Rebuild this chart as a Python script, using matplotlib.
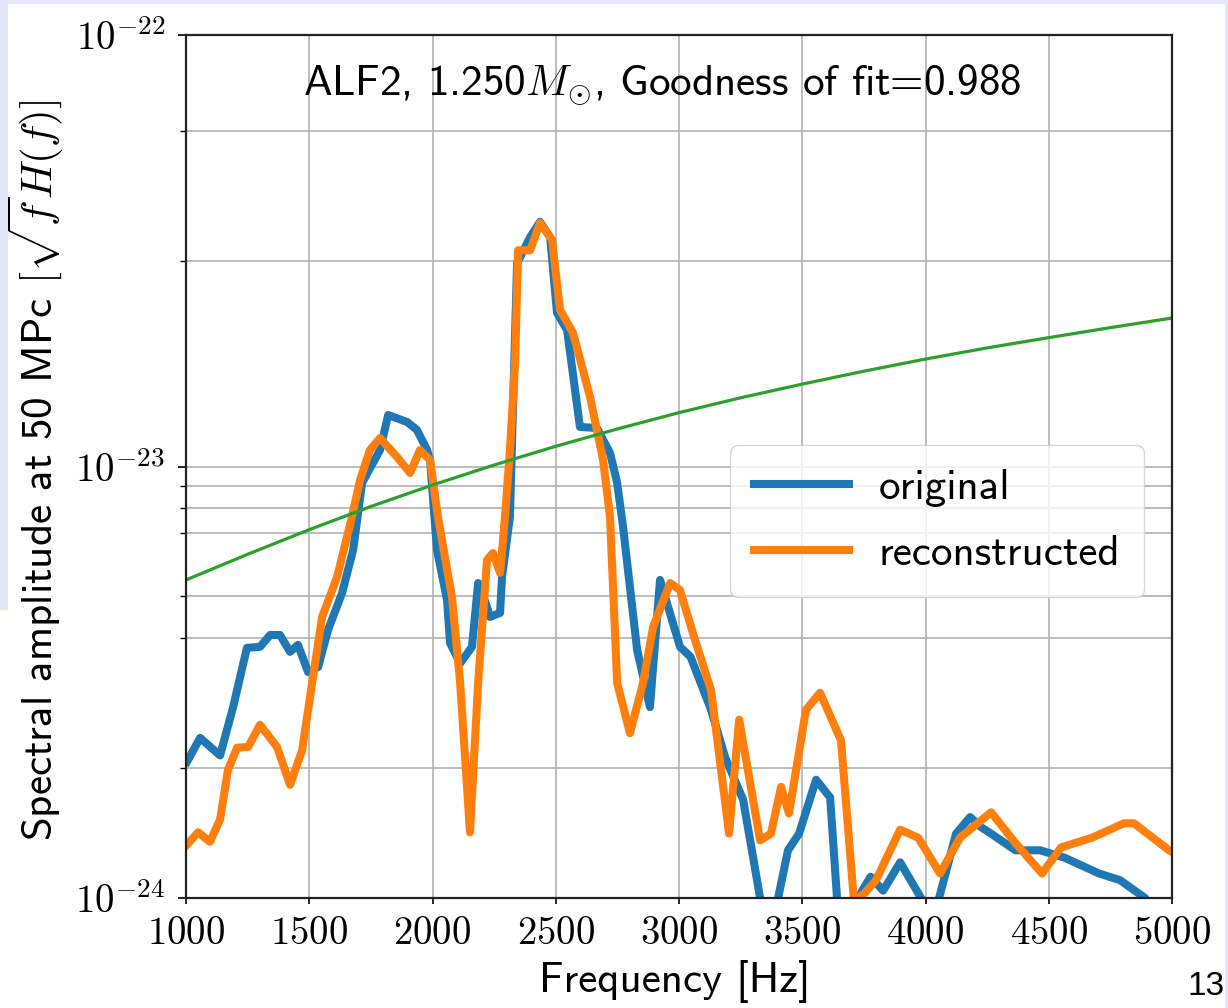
import matplotlib
matplotlib.use("Agg")
import matplotlib.pyplot as plt
from matplotlib.ticker import FixedLocator, FixedFormatter, NullFormatter
from matplotlib.patches import Rectangle

# amplitudes are given in units of 1e-24
unit = 1e-24

freq_orig = [1004, 1057, 1138, 1191, 1247, 1300, 1341, 1381, 1422, 1454, 1495, 1536,
             1576, 1633, 1678, 1714, 1787, 1820, 1897, 1937, 1978, 1990, 2018, 2059,
             2071, 2112, 2160, 2185, 2221, 2233, 2274, 2282, 2314, 2343, 2396, 2436,
             2477, 2505, 2546, 2598, 2667, 2720, 2749, 2773, 2830, 2882, 2923, 3004,
             3047, 3130, 3187, 3260, 3329, 3360, 3375, 3402, 3442, 3487, 3556, 3613,
             3641, 3670, 3710, 3730, 3743, 3777, 3828, 3897, 3982, 4005, 4030, 4055,
             4124, 4181, 4225, 4266, 4365, 4465, 4564, 4704, 4789, 4891, 5000]
amp_orig = [2.07, 2.35, 2.14, 2.77, 3.80, 3.82, 4.07, 4.07, 3.72, 3.86, 3.34, 3.43,
            4.18, 5.09, 6.41, 9.16, 10.92, 13.16, 12.68, 12.15, 10.92, 10.35, 6.41, 4.90,
            3.90, 3.50, 3.82, 5.37, 4.73, 4.48, 4.58, 5.55, 7.64, 29.6, 34.0, 36.9,
            34.0, 22.7, 20.7, 12.35, 12.28, 10.75, 9.16, 7.24, 3.76, 2.77, 5.46, 3.82,
            3.62, 2.73, 2.12, 1.69, 1.0, 0.6, 0.6, 1.0, 1.29, 1.41, 1.88, 1.71,
            1.0, 0.6, 0.6, 1.0, 1.04, 1.12, 1.04, 1.21, 1.0, 0.7, 0.7, 1.0,
            1.41, 1.54, 1.46, 1.41, 1.29, 1.29, 1.24, 1.14, 1.10, 1.0, 0.75]

freq_rec = [1004, 1049, 1097, 1138, 1170, 1207, 1252, 1300, 1369, 1422, 1471, 1515,
            1552, 1613, 1673, 1706, 1746, 1787, 1856, 1909, 1949, 1990, 2022, 2079,
            2112, 2152, 2185, 2221, 2245, 2274, 2294, 2314, 2335, 2347, 2396, 2436,
            2485, 2517, 2570, 2639, 2692, 2720, 2749, 2801, 2854, 2895, 2964, 3004,
            3061, 3130, 3203, 3244, 3329, 3373, 3414, 3446, 3515, 3572, 3657, 3710,
            3755, 3799, 3897, 3970, 4059, 4140, 4266, 4365, 4473, 4550, 4676, 4805,
            4846, 4988, 5000]
amp_rec = [1.33, 1.42, 1.35, 1.52, 1.98, 2.23, 2.24, 2.52, 2.24, 1.83, 2.20, 3.25,
           4.48, 5.55, 7.64, 9.31, 10.92, 11.64, 10.52, 9.66, 10.92, 10.35, 7.64, 4.98,
           3.15, 1.42, 3.15, 6.07, 6.30, 5.67, 7.64, 10.92, 17.4, 31.7, 31.7, 36.7,
           33.5, 23.1, 20.4, 14.5, 10.35, 7.64, 3.15, 2.41, 3.15, 4.25, 5.37, 5.17,
           4.03, 3.03, 1.41, 2.59, 1.36, 1.41, 1.81, 1.57, 2.73, 2.99, 2.32, 0.98,
           1.03, 1.10, 1.44, 1.38, 1.14, 1.38, 1.58, 1.34, 1.14, 1.31, 1.38, 1.49,
           1.49, 1.29, 1.28]

freq_noise = [1000, 1250, 1500, 1750, 2000, 2250, 2500, 2750, 3000, 3250, 3500,
              3750, 4000, 4250, 4500, 4750, 5000]
amp_noise = [5.46, 6.26, 7.14, 8.08, 9.06, 10.08, 11.14, 12.22, 13.33, 14.43, 15.52,
             16.63, 17.74, 18.83, 19.89, 20.98, 22.08]

xticks = [1000, 1500, 2000, 2500, 3000, 3500, 4000, 4500, 5000]
yticks = [1e-24, 1e-23, 1e-22]
ytick_labels = [r'$10^{-24}$', r'$10^{-23}$', r'$10^{-22}$']
yminor = [2e-24, 4e-24, 5e-24, 7e-24, 8e-24, 9e-24, 3e-23, 6e-23]

plt.rcParams['mathtext.fontset'] = 'cm'
plt.rcParams['axes.formatter.use_mathtext'] = True
sans = ['cmss10', 'DejaVu Sans']

fig = plt.figure(figsize=(12.28, 10.08), dpi=100)
ax = fig.add_axes([0.1515, 0.1091, 0.8029, 0.8562])

ax.plot(freq_orig, [a * unit for a in amp_orig], color='#1f77b4', lw=5.8, label='original')
ax.plot(freq_rec, [a * unit for a in amp_rec], color='#ff7f0e', lw=5.8, label='reconstructed')
ax.plot(freq_noise, [a * unit for a in amp_noise], color='#2ca02c', lw=2.3)

ax.set_yscale('log')
ax.set_xlim(1000, 5000)
ax.set_ylim(1e-24, 1e-22)

ax.yaxis.set_major_locator(FixedLocator(yticks))
ax.yaxis.set_major_formatter(FixedFormatter(ytick_labels))
ax.yaxis.set_minor_locator(FixedLocator(yminor))
ax.yaxis.set_minor_formatter(NullFormatter())
ax.set_xticks(xticks)
for lab in ax.get_xticklabels():
    lab.set_fontfamily('cmr10')

ax.tick_params(axis='x', which='major', labelsize=28, length=4, width=1.2, pad=9)
ax.tick_params(axis='y', which='major', labelsize=28, length=6, width=1.2, pad=9)
ax.tick_params(axis='y', which='minor', length=4, width=1.0)

ax.grid(True, which='both', color='#b8b8b8', lw=1.3)
ax.set_axisbelow(True)
for sp in ax.spines.values():
    sp.set_linewidth(1.6)
    sp.set_color('#222222')

ax.set_xlabel('Frequency [Hz]', family=sans, fontsize=31)
ax.set_ylabel(r'Spectral amplitude at 50 MPc $[\sqrt{f}H(f)]$', family=sans, fontsize=31)
ax.xaxis.set_label_coords(0.496, -0.072)
ax.yaxis.set_label_coords(-0.122, 0.496)

ax.text(0.483, 0.930, r'ALF2, 1.250$M_{\odot}$, Goodness of fit=0.988',
        transform=ax.transAxes, ha='center', va='baseline', family=sans, fontsize=31)

ax.legend(loc='upper left', bbox_to_anchor=(0.552, 0.525), borderaxespad=0,
          prop={'family': sans, 'size': 31},
          handlelength=2.2, handletextpad=0.7, labelspacing=0.66, borderpad=0.55,
          framealpha=0.8, edgecolor='#cccccc', fancybox=True)

# slide frame around the figure
lav = '#e6e6fa'
fig.add_artist(Rectangle((0, 1 - 4 / 1008), 1, 4 / 1008, transform=fig.transFigure,
                         color=lav, lw=0, zorder=-5))
fig.add_artist(Rectangle((0, 1 - 610 / 1008), 8 / 1228, 610 / 1008, transform=fig.transFigure,
                         color=lav, lw=0, zorder=-5))
fig.add_artist(Rectangle((1225 / 1228, 0), 3 / 1228, 1, transform=fig.transFigure,
                         color=lav, lw=0, zorder=-5))
fig.text(1225 / 1228, 1 - 995 / 1008, '13', ha='right', va='baseline',
         family='Liberation Sans', fontsize=24)

fig.savefig('out.png', dpi=100)
